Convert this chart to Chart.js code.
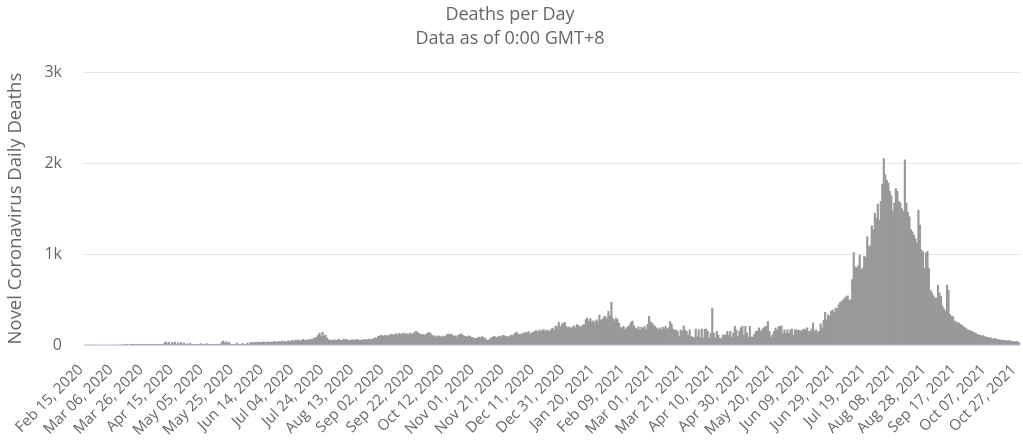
<!DOCTYPE html>
<html><head><meta charset="utf-8">
<script src="https://cdn.jsdelivr.net/npm/chart.js@4.4.0/dist/chart.umd.min.js"></script>
<style>html,body{margin:0;padding:0;background:#fff;}#wrap{width:1023px;height:443px;}</style>
</head><body><div id="wrap"><canvas id="c" width="1023" height="443"></canvas></div>
<script>
const startDate = Date.UTC(2020, 1, 15);
const tickLabels = ['Feb 15, 2020','Mar 06, 2020','Mar 26, 2020','Apr 15, 2020','May 05, 2020','May 25, 2020','Jun 14, 2020','Jul 04, 2020','Jul 24, 2020','Aug 13, 2020','Sep 02, 2020','Sep 22, 2020','Oct 12, 2020','Nov 01, 2020','Nov 21, 2020','Dec 11, 2020','Dec 31, 2020','Jan 20, 2021','Feb 09, 2021','Mar 01, 2021','Mar 21, 2021','Apr 10, 2021','Apr 30, 2021','May 20, 2021','Jun 09, 2021','Jun 29, 2021','Jul 19, 2021','Aug 08, 2021','Aug 28, 2021','Sep 17, 2021','Oct 07, 2021','Oct 27, 2021'];

const feb2020 = [0,0,0,0,0,0,0,0,0,0,0,0,0,0,0];
const mar2020 = [0,0,0,0,0,0,0,0,0,0,1,0,2,1,0,1,2,3,2,2,4,3,1,3,2,4,3,4,3,2,4];
const apr2020 = [3,2,4,3,2,5,3,22,35,12,30,8,26,15,32,6,24,10,28,5,20,3,14,2,18,4,3,2,5,3];
const may2020 = [4,15,3,2,5,16,4,3,2,5,4,3,2,4,8,30,45,22,38,18,30,6,4,3,5,20,4,3,6,18,5];
const jun2020 = [4,20,5,25,30,22,28,24,32,26,30,28,35,24,30,36,28,33,30,40,28,35,38,32,42,36,40,30,45,38];
const jul2020 = [45,52,40,55,48,58,44,50,62,55,48,60,52,66,58,70,78,85,105,130,98,138,95,110,78,60,48,55,50,58,52];
const aug2020 = [55,62,50,48,66,58,62,45,55,52,60,48,58,62,50,55,52,58,62,55,60,66,58,62,70,78,72,95,100,105,98];
const sep2020 = [100,110,95,108,112,120,106,118,125,110,128,115,122,132,118,126,112,130,120,124,135,150,142,128,118,112,115,108,120,130];
const oct2020 = [138,120,105,95,100,88,102,95,85,98,90,100,118,121,112,115,95,100,90,105,112,122,108,100,95,88,102,96,85,78,70];
const nov2020 = [72,80,88,78,92,85,70,58,52,60,78,85,95,88,80,92,98,90,105,100,95,88,96,110,102,113,130,143,115,120];
const dec2020 = [118,130,125,140,135,148,120,135,142,150,158,140,165,148,160,170,152,165,158,150,175,185,165,210,195,250,200,225,242,250,205];
const jan2021 = [185,200,178,195,210,190,225,215,198,205,218,225,280,297,260,290,250,265,240,278,255,330,270,285,310,315,290,370,320,473,290];
const feb2021 = [265,297,280,240,195,180,205,170,190,200,215,250,262,210,185,175,200,160,195,180,205,170,230,315,255,240,220,205];
const mar2021 = [185,170,190,165,195,180,205,175,190,258,230,175,160,168,150,95,168,150,210,168,150,110,168,92,88,80,176,90,168,80,176];
const apr2021 = [77,176,176,150,77,132,405,132,77,150,110,77,66,110,110,110,150,110,150,88,132,205,168,95,150,190,205,110,205,132];
const may2021 = [88,205,88,88,120,150,150,190,150,168,185,200,205,260,150,88,110,150,185,168,200,205,212,125,168,132,168,125,168,176,110];
const jun2021 = [168,168,160,160,150,168,176,168,190,150,150,176,242,150,168,140,150,234,185,271,359,280,333,315,370,388,360,407,400,443];
const jul2021 = [470,480,495,515,530,540,490,500,720,1015,860,850,870,990,830,850,975,960,1190,1080,1090,1310,1270,1450,1400,1550,1370,1580,1770,2050,1870];
const aug2021 = [1810,1780,1690,1640,1470,1560,1720,1690,1580,1560,1500,1470,2035,1560,1460,1410,1270,1245,1210,1170,1120,1485,1320,1045,1025,845,1010,1030,840,600,575];
const sep2021 = [540,520,515,660,570,535,425,395,370,660,605,335,315,310,265,255,245,240,225,220,200,190,178,162,165,150,148,135,130,118];
const oct2021 = [112,108,98,104,92,88,85,80,78,70,66,72,62,58,60,55,50,52,48,45,50,42,40,38,35,40,32,30];

const deaths = [].concat(feb2020, mar2020, apr2020, may2020, jun2020, jul2020, aug2020, sep2020, oct2020, nov2020, dec2020,
  jan2021, feb2021, mar2021, apr2021, may2021, jun2021, jul2021, aug2021, sep2021, oct2021);

const monthNames = ['Jan','Feb','Mar','Apr','May','Jun','Jul','Aug','Sep','Oct','Nov','Dec'];
const categories = deaths.map((_, i) => {
  const d = new Date(startDate + i * 86400000);
  return monthNames[d.getUTCMonth()] + ' ' + String(d.getUTCDate()).padStart(2, '0') + ', ' + d.getUTCFullYear();
});

const FONT = 'Open Sans';
new Chart(document.getElementById('c'), {
  type: 'bar',
  data: {
    labels: categories,
    datasets: [{ data: deaths, backgroundColor: '#999999', borderWidth: 0, barPercentage: 1, categoryPercentage: 1 }]
  },
  options: {
    responsive: false, animation: false, devicePixelRatio: 1,
    layout: { padding: { left: 0, right: 3, top: 0, bottom: 0 } },
    plugins: {
      legend: { display: false }, tooltip: { enabled: false },
      title: { display: true, text: 'Deaths per Day', color: '#666666',
        font: { family: FONT, size: 18, weight: 'normal' }, padding: { top: 4, bottom: 2 } },
      subtitle: { display: true, text: 'Data as of 0:00 GMT+8', color: '#666666',
        font: { family: FONT, size: 18, weight: 'normal' }, padding: { top: 0, bottom: 23 } }
    },
    scales: {
      x: {
        grid: { display: true, color: 'rgba(0,0,0,0)', drawTicks: false },
        border: { display: true, color: '#ccd6eb', width: 1 },
        ticks: { autoSkip: false, maxRotation: 45, minRotation: 45, color: '#666666',
          font: { family: FONT, size: 15 }, padding: 16, labelOffset: -4,
          callback: (v, i) => (i % 20 === 0 ? tickLabels[i / 20] : '') },
        afterFit: s => { s.height = 98; s.paddingRight = 0; s.paddingLeft = 0; }
      },
      y: {
        min: 0, max: 3000,
        ticks: { stepSize: 1000, color: '#666666', font: { family: FONT, size: 16 }, padding: 22,
          callback: v => (v === 0 ? '0' : (v / 1000) + 'k') },
        grid: { color: c => (c.tick && c.tick.value === 0 ? 'rgba(0,0,0,0)' : '#e6e6e6'), drawTicks: false },
        border: { display: false },
        title: { display: true, text: 'Novel Coronavirus Daily Deaths', color: '#666666',
          font: { family: FONT, size: 18.5 }, padding: { top: 5, bottom: 0 } },
        afterFit: s => { s.width = 84; }
      }
    }
  }
});
</script></body></html>
